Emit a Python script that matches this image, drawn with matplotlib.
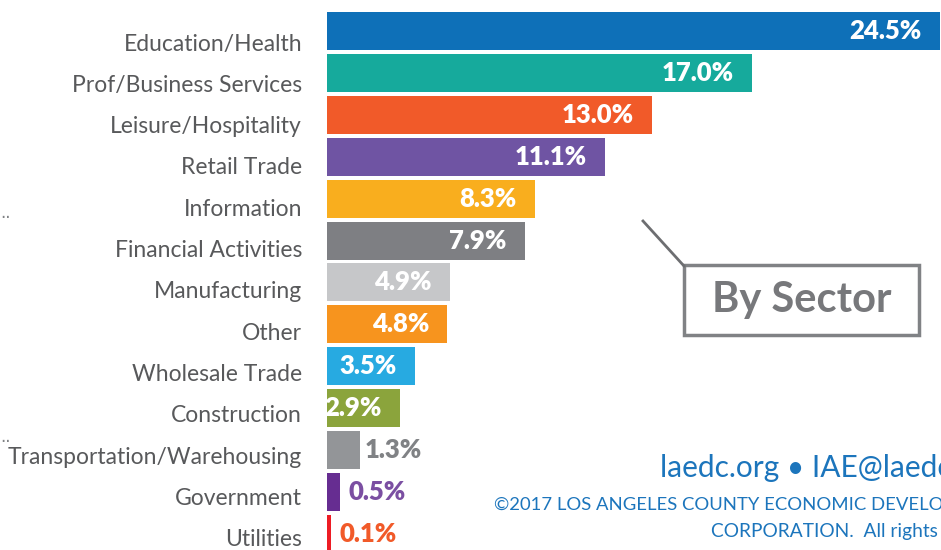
import matplotlib
matplotlib.use("Agg")
import matplotlib.pyplot as plt
from matplotlib.patches import Rectangle
from matplotlib.transforms import ScaledTranslation

SECTORS = [
    "Education/Health", "Prof/Business Services", "Leisure/Hospitality",
    "Retail Trade", "Information", "Financial Activities", "Manufacturing",
    "Other", "Wholesale Trade", "Construction", "Transportation/Warehousing",
    "Government", "Utilities",
]
SHARES = [24.5, 17.0, 13.0, 11.1, 8.3, 7.9, 4.9, 4.8, 3.5, 2.9, 1.3, 0.5, 0.1]
VALUE_LABELS = ["24.5%", "17.0%", "13.0%", "11.1%", "8.3%", "7.9%", "4.9%",
                "4.8%", "3.5%", "2.9%", "1.3%", "0.5%", "0.1%"]

COLORS = ["#0E70B8", "#16AA9C", "#F15A29", "#6F54A3", "#F9AE1E", "#7E7F83",
          "#C6C7C9", "#F7941E", "#27AAE1", "#8BA43C", "#939598", "#662D91", "#ED1C24"]
OUTSIDE_COLORS = {10: "#808285", 11: "#7B4FA2", 12: "#F15A29"}
OUTSIDE_PAD = {10: 5, 11: 9, 12: 9}

FONT = "Lato"
W, H = 941, 550

fig = plt.figure(figsize=(W / 100, H / 100), dpi=100)
ax = fig.add_axes([327 / W, 0, 1 - 327 / W, 1])

pitch = 41.9
ys = list(range(len(SECTORS)))
ax.barh(ys, [max(v, 0.16) for v in SHARES], height=38 / pitch, color=COLORS)
ax.set_xlim(0, (W - 327) / 25.0)
ax.set_ylim((H - 31) / pitch, -31 / pitch)

for i, (v, lab) in enumerate(zip(SHARES, VALUE_LABELS)):
    if i in OUTSIDE_COLORS:
        off = ScaledTranslation(OUTSIDE_PAD[i] / 100, 0, fig.dpi_scale_trans)
        ax.text(max(v, 0.16), i, lab, ha="left", va="center", fontsize=18.5,
                fontweight="heavy", color=OUTSIDE_COLORS[i], family=FONT,
                transform=ax.transData + off)
    else:
        off = ScaledTranslation(-18 / 100, 0, fig.dpi_scale_trans)
        ax.text(v, i, lab, ha="right", va="center", fontsize=18.5,
                fontweight="heavy", color="white", family=FONT,
                transform=ax.transData + off)

ax.set_xticks([])
ax.set_yticks([])
for s in ax.spines.values():
    s.set_visible(False)

# category labels (slightly tighter spacing than the bars, as in the source slide)
for i, name in enumerate(SECTORS):
    fig.text(302 / W, 1 - (44 + i * 41.33) / H, name, ha="right", va="center",
             fontsize=16.5, color="#58595B", family=FONT)

# "By Sector" callout
fig.add_artist(Rectangle((684 / W, 1 - 335 / H), (919 - 684) / W, 70 / H,
                         transform=fig.transFigure, fill=False,
                         edgecolor="#808285", linewidth=2.5))
fig.add_artist(plt.Line2D([643 / W, 684 / W], [1 - 221 / H, 1 - 266 / H],
                          transform=fig.transFigure, color="#6D6E71", linewidth=2))
fig.text(802 / W, 1 - 300 / H, "By Sector", ha="center", va="center",
         fontsize=30, fontweight="bold", color="#77787B", family=FONT)

# footer (cut off at the right edge, as in the source)
fig.text(660 / W, 1 - 468 / H, "laedc.org \u2022 IAE@laedc.org", ha="left", va="center",
         fontsize=21.5, color="#1C75BC", family=FONT)
fig.text(494 / W, 1 - 505 / H, "\u00a92017 LOS ANGELES COUNTY ECONOMIC DEVELOPMENT",
         ha="left", va="center", fontsize=13.3, color="#1C75BC", family=FONT)
fig.text(711 / W, 1 - 531 / H, "CORPORATION.  All rights reserved.",
         ha="left", va="center", fontsize=13.8, color="#1C75BC", family=FONT)

# cropped remnants at left edge
fig.text(0, 1 - 213 / H, "..", ha="left", va="center", fontsize=12, color="#808285")
fig.text(0, 1 - 437 / H, "..", ha="left", va="center", fontsize=12, color="#808285")

fig.savefig("out.png", dpi=100)
